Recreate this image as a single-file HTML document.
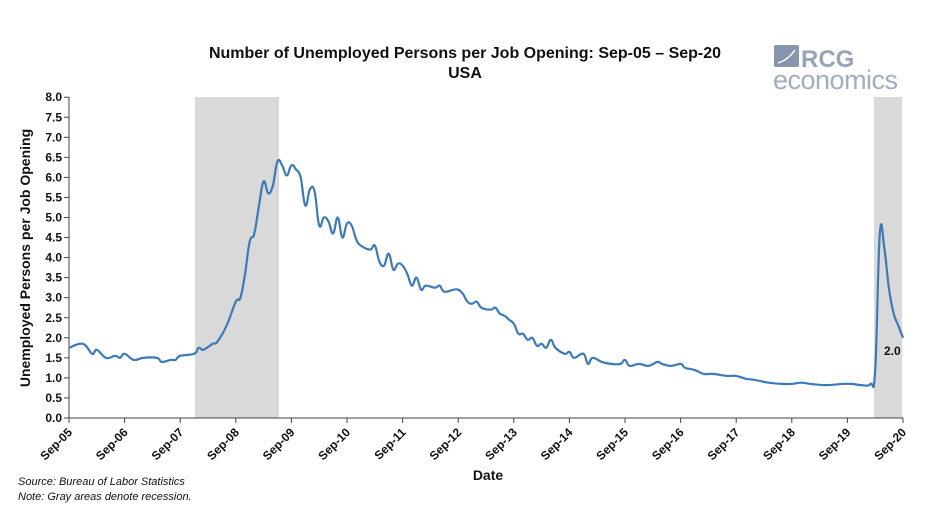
<!DOCTYPE html><html><head><meta charset="utf-8"><style>
body{margin:0;background:#fff;width:929px;height:517px;overflow:hidden;font-family:"Liberation Sans",sans-serif}
</style></head><body>
<svg id="s" width="929" height="517" xmlns="http://www.w3.org/2000/svg" font-family="Liberation Sans, sans-serif">
<rect x="195" y="97" width="84" height="321" fill="#d9d9d9"/>
<rect x="874" y="97" width="28" height="321" fill="#d9d9d9"/>
<text x="465" y="58" text-anchor="middle" font-size="16" font-weight="bold" fill="#111">Number of Unemployed Persons per Job Opening: Sep-05 – Sep-20</text>
<text x="465" y="78" text-anchor="middle" font-size="16" font-weight="bold" fill="#111">USA</text>
<rect x="774" y="45" width="25" height="22" rx="2" fill="#8796aa"/>
<path d="M778 63 Q788 60 795 50" stroke="#fff" stroke-width="1.5" fill="none"/>
<text x="801" y="67" font-size="24" font-weight="bold" fill="#97a4b5">RCG</text>
<text x="773" y="89" font-size="27" fill="#a3aebd" letter-spacing="-0.5">economics</text>
<g id="ax" stroke="#444" stroke-width="1"></g>
<g id="lb" font-size="12" font-weight="bold" fill="#111"></g>
<path id="ln" fill="none" stroke="#3c7ab8" stroke-width="2.2" stroke-linejoin="round"/>
<text x="884" y="355" font-size="12" font-weight="bold" fill="#111">2.0</text>
<text transform="translate(30,258) rotate(-90)" text-anchor="middle" font-size="14" font-weight="bold" fill="#111">Unemployed Persons per Job Opening</text>
<text x="488" y="480" text-anchor="middle" font-size="14" font-weight="bold" fill="#111">Date</text>
<text x="18" y="485" font-size="11" font-style="italic" fill="#111">Source: Bureau of Labor Statistics</text>
<text x="18" y="500" font-size="11" font-style="italic" fill="#111">Note: Gray areas denote recession.</text>
</svg>
<script>
var ns="http://www.w3.org/2000/svg",ax=document.getElementById('ax'),lb=document.getElementById('lb');
function el(p,t,a,txt){var e=document.createElementNS(ns,t);for(var k in a)e.setAttribute(k,a[k]);if(txt)e.textContent=txt;p.appendChild(e);return e;}
var X=function(m){return 69+m*55.6/12},Y=function(v){return 418-v*40.1};
el(ax,'line',{x1:69,y1:97,x2:69,y2:418});el(ax,'line',{x1:69,y1:418,x2:903,y2:418});
for(var i=0;i<=16;i++){var v=i*0.5,y=Y(v);el(ax,'line',{x1:64,y1:y,x2:69,y2:y});el(lb,'text',{x:62,y:y+4,'text-anchor':'end'},v.toFixed(1));}
for(var i=0;i<=15;i++){var x=X(i*12);el(ax,'line',{x1:x,y1:418,x2:x,y2:423});var yr=(5+i<10?'0':'')+(5+i);el(lb,'text',{transform:'translate('+(x+4)+',433) rotate(-45)','text-anchor':'end'},'Sep-'+yr);}
var d=[[0,1.75],[3,1.85],[5,1.6],[6,1.7],[8,1.5],[10,1.55],[11,1.5],[12,1.6],[14,1.45],[16,1.5],[19,1.5],[20,1.4],[22,1.45],[23,1.45],[24,1.55],[27,1.6],[28,1.75],[29,1.7],[31,1.85],[32,1.9],[34,2.3],[36,2.9],[37,3.0],[38,3.6],[39,4.4],[40,4.6],[41,5.3],[42,5.9],[43,5.6],[44,5.8],[45,6.4],[46,6.3],[47,6.05],[48,6.3],[49,6.2],[50,6.0],[51,5.3],[52,5.7],[53,5.65],[54,4.8],[55,5.0],[56,4.9],[57,4.6],[58,5.0],[59,4.5],[60,4.85],[61,4.8],[62,4.45],[63,4.3],[65,4.2],[66,4.3],[67,3.9],[68,3.8],[69,4.1],[70,3.7],[71,3.85],[72,3.8],[73,3.6],[74,3.3],[75,3.5],[76,3.2],[77,3.3],[79,3.25],[80,3.3],[81,3.15],[83,3.2],[84,3.2],[85,3.1],[86,2.9],[87,2.85],[88,2.9],[89,2.75],[91,2.7],[92,2.75],[93,2.6],[94,2.55],[95,2.45],[96,2.35],[97,2.1],[98,2.1],[99,1.95],[100,2.0],[101,1.8],[102,1.85],[103,1.75],[104,1.95],[105,1.75],[107,1.6],[108,1.65],[109,1.5],[111,1.6],[112,1.35],[113,1.5],[115,1.4],[117,1.35],[119,1.35],[120,1.45],[121,1.3],[123,1.35],[125,1.3],[127,1.4],[128,1.35],[130,1.3],[132,1.35],[133,1.25],[135,1.2],[137,1.1],[139,1.1],[142,1.05],[144,1.05],[146,0.98],[148,0.95],[151,0.88],[154,0.85],[156,0.85],[158,0.88],[160,0.85],[163,0.82],[165,0.83],[167,0.85],[169,0.85],[171,0.82],[173,0.85],[174,1.2],[175,4.6],[176,4.2],[177,3.2],[178,2.6],[179,2.3],[180,2.0]];
var P=d.map(function(q){return [X(q[0]),Y(q[1])]});
var p='M'+P[0][0].toFixed(1)+' '+P[0][1].toFixed(1);
for(var i=0;i<P.length-1;i++){var a=P[i-1]||P[i],b=P[i],c=P[i+1],e=P[i+2]||c,t=0.2;
p+='C'+(b[0]+(c[0]-a[0])*t).toFixed(1)+' '+(b[1]+(c[1]-a[1])*t).toFixed(1)+' '+(c[0]-(e[0]-b[0])*t).toFixed(1)+' '+(c[1]-(e[1]-b[1])*t).toFixed(1)+' '+c[0].toFixed(1)+' '+c[1].toFixed(1);}
document.getElementById('ln').setAttribute('d',p);
</script>
</body></html>
